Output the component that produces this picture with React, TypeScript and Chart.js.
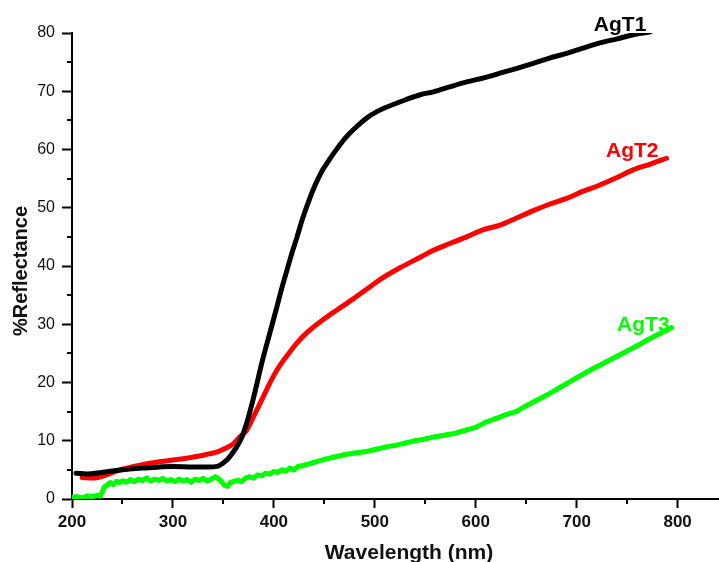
import { useEffect, useRef } from "react";
import { Chart, registerables } from "chart.js";

Chart.register(...registerables);

// Diffuse reflectance spectra of the three silver-doped samples
const seriesNames = ["AgT1", "AgT2", "AgT3"];

const wavelengthAgT1 = [
  204, 215, 228, 240, 255, 270, 287, 300, 320, 335, 344, 350, 356, 363, 368, 373,
  380, 389, 396, 403, 408, 413, 418, 423, 428, 433, 438, 443, 448, 454, 459, 465,
  472, 480, 492, 502, 512, 530, 545, 558, 575, 591, 608, 624, 640, 657, 673, 690,
  706, 723, 740, 756, 773,
];
const reflectanceAgT1 = [
  4.4, 4.3, 4.5, 4.8, 5.1, 5.3, 5.5, 5.6, 5.5, 5.5, 5.6, 6.2, 7.2, 8.9, 10.5, 13.0,
  17.5, 24.0, 28.5, 33.0, 36.3, 39.3, 42.3, 45.0, 47.9, 50.4, 52.7, 54.7, 56.4, 58.0, 59.3, 60.7,
  62.2, 63.6, 65.4, 66.5, 67.3, 68.5, 69.4, 69.9, 70.8, 71.6, 72.3, 73.1, 73.9, 74.8, 75.7, 76.5,
  77.4, 78.3, 79.0, 79.7, 80.2,
];

const wavelengthAgT2 = [
  210, 221, 230, 238, 246, 254, 265, 276, 287, 300, 310, 320, 332, 344, 352, 360,
  366, 373, 380, 388, 396, 404, 413, 423, 433, 448, 463, 479, 495, 510, 525, 545,
  558, 575, 591, 607, 624, 640, 657, 673, 690, 706, 723, 740, 756, 773, 789,
];
const reflectanceAgT2 = [
  3.7, 3.6, 3.9, 4.4, 4.9, 5.3, 5.7, 6.1, 6.4, 6.7, 6.9, 7.2, 7.6, 8.1, 8.7, 9.5,
  10.6, 11.8, 14.2, 17.0, 19.9, 22.4, 24.6, 26.8, 28.6, 30.7, 32.5, 34.4, 36.4, 38.2, 39.7, 41.5,
  42.7, 43.9, 45.0, 46.2, 47.0, 48.2, 49.5, 50.6, 51.6, 52.8, 53.9, 55.2, 56.5, 57.5, 58.5,
];

const wavelengthAgT3 = [
  200, 205, 210, 215, 220, 225, 228, 230, 232, 235, 238, 241, 244, 247, 250, 254,
  258, 262, 266, 270, 274, 278, 282, 286, 290, 294, 298, 302, 306, 310, 314, 318,
  322, 326, 330, 334, 338, 342, 345, 348, 351, 354, 357, 360, 364, 368, 372, 376,
  380, 384, 388, 392, 396, 400, 404, 408, 412, 416, 420, 424, 428, 432, 440, 450,
  460, 470, 480, 490, 500, 510, 520, 530, 540, 550, 560, 570, 580, 590, 600, 610,
  620, 630, 640, 650, 660, 670, 680, 690, 700, 710, 720, 730, 740, 750, 760, 770,
  780, 788, 794,
];
const reflectanceAgT3 = [
  0.3, 0.4, 0.2, 0.5, 0.4, 0.6, 0.5, 1.2, 2.0, 2.4, 2.8, 2.5, 3.0, 2.8, 3.1, 2.9,
  3.3, 3.0, 3.4, 3.2, 3.6, 3.1, 3.4, 3.2, 3.5, 3.1, 3.3, 3.0, 3.4, 3.1, 3.3, 2.9,
  3.4, 3.2, 3.5, 3.1, 3.4, 3.8, 3.5, 3.0, 2.4, 2.2, 2.8, 3.0, 3.2, 3.0, 3.6, 3.8,
  3.6, 4.1, 4.0, 4.4, 4.3, 4.7, 4.6, 5.0, 4.8, 5.3, 5.0, 5.6, 5.7, 5.9, 6.3, 6.8,
  7.2, 7.6, 7.9, 8.1, 8.5, 8.9, 9.2, 9.6, 10.0, 10.3, 10.7, 11.0, 11.3, 11.8, 12.3, 13.2,
  13.8, 14.5, 15.0, 16.0, 16.9, 17.8, 18.8, 19.8, 20.8, 21.8, 22.7, 23.6, 24.5, 25.4, 26.3, 27.3,
  28.2, 28.9, 29.4,
];

// Axis ticks
const xMajorTicks = [200, 300, 400, 500, 600, 700, 800];
const xMinorTicks = [250, 350, 450, 550, 650, 750];
const yMajorTicks = [0, 10, 20, 30, 40, 50, 60, 70, 80];
const yMinorTicks = [5, 15, 25, 35, 45, 55, 65, 75];

const xAxisTitle = "Wavelength (nm)";
const yAxisTitle = "%Reflectance";

const FONT = "Arial, 'Liberation Sans', Helvetica, sans-serif";
const INK = "#000000";

const toPoints = (xs: number[], ys: number[]) => xs.map((x, i) => ({ x, y: ys[i] }));

// Minor ticks, end-of-curve series names and the axis captions
const decorations = {
  id: "decorations",
  afterDraw(chart: any) {
    const { ctx, chartArea, scales } = chart;
    const xs = scales.x;
    const ys = scales.y;
    ctx.save();

    ctx.strokeStyle = INK;
    ctx.lineWidth = 2;
    for (const v of xMinorTicks) {
      const px = Math.round(xs.getPixelForValue(v));
      ctx.beginPath();
      ctx.moveTo(px, chartArea.bottom);
      ctx.lineTo(px, chartArea.bottom + 5);
      ctx.stroke();
    }
    for (const v of yMinorTicks) {
      const py = Math.round(ys.getPixelForValue(v));
      ctx.beginPath();
      ctx.moveTo(chartArea.left, py);
      ctx.lineTo(chartArea.left - 5, py);
      ctx.stroke();
    }

    // series names next to the long-wavelength end of each curve
    ctx.font = `bold 21px ${FONT}`;
    ctx.textAlign = "right";
    ctx.textBaseline = "alphabetic";
    chart.data.datasets.forEach((ds: any) => {
      const last = ds.data[ds.data.length - 1];
      const [dx, dy] = ds.labelOffset;
      ctx.fillStyle = ds.borderColor;
      ctx.fillText(ds.label, xs.getPixelForValue(last.x) + dx, ys.getPixelForValue(last.y) + dy);
    });

    ctx.fillStyle = "#111111";
    ctx.font = `bold 21px ${FONT}`;
    ctx.textAlign = "center";
    ctx.fillText(xAxisTitle, (chartArea.left + chartArea.right) / 2 + 14, chart.height - 3);

    ctx.font = `bold 20px ${FONT}`;
    ctx.translate(27, (chartArea.top + chartArea.bottom) / 2 + 5);
    ctx.rotate(-Math.PI / 2);
    ctx.fillText(yAxisTitle, 0, 0);

    ctx.restore();
  },
};

export default function App() {
  const canvasRef = useRef<HTMLCanvasElement | null>(null);

  useEffect(() => {
    const canvas = canvasRef.current;
    if (!canvas) return;

    const chart = new Chart(canvas, {
      type: "line",
      data: {
        datasets: [
          {
            label: seriesNames[0],
            data: toPoints(wavelengthAgT1, reflectanceAgT1),
            borderColor: "#000000",
            borderWidth: 5,
            pointRadius: 0,
            cubicInterpolationMode: "monotone",
            borderCapStyle: "round",
            borderJoinStyle: "round",
            labelOffset: [-4, -1],
          } as any,
          {
            label: seriesNames[1],
            data: toPoints(wavelengthAgT2, reflectanceAgT2),
            borderColor: "#ff0000",
            borderWidth: 5,
            pointRadius: 0,
            cubicInterpolationMode: "monotone",
            borderCapStyle: "round",
            borderJoinStyle: "round",
            labelOffset: [-8, -1],
          } as any,
          {
            label: seriesNames[2],
            data: toPoints(wavelengthAgT3, reflectanceAgT3),
            borderColor: "#00ff00",
            backgroundColor: "#00ff00",
            borderWidth: 5,
            pointRadius: 2.5,
            pointBorderWidth: 0,
            pointBackgroundColor: "#00ff00",
            tension: 0,
            borderCapStyle: "round",
            borderJoinStyle: "round",
            labelOffset: [-2, 3],
          } as any,
        ],
      },
      options: {
        animation: false,
        responsive: false,
        devicePixelRatio: 1,
        parsing: false as any,
        layout: { padding: { top: 33, right: 1, left: 0, bottom: 0 }, autoPadding: false },
        plugins: {
          legend: { display: false },
          tooltip: { enabled: false },
          title: { display: false },
        },
        scales: {
          x: {
            type: "linear",
            min: 200,
            max: 840,
            afterFit: (scale: any) => {
              scale.height = 63;
            },
            afterBuildTicks: (scale: any) => {
              scale.ticks = xMajorTicks.map((value) => ({ value }));
            },
            ticks: {
              includeBounds: false,
              padding: 4,
              color: "#111111",
              font: { family: FONT, size: 17, weight: "bold" },
              maxRotation: 0,
              callback: (v: any) => String(v),
            },
            grid: {
              drawOnChartArea: false,
              drawTicks: true,
              tickLength: 9,
              tickWidth: 2,
              tickColor: INK,
            },
            border: { display: true, width: 2, color: INK },
          },
          y: {
            type: "linear",
            min: 0,
            max: 80,
            afterFit: (scale: any) => {
              scale.width = 72;
            },
            afterBuildTicks: (scale: any) => {
              scale.ticks = yMajorTicks.map((value) => ({ value }));
            },
            ticks: {
              padding: 7,
              color: "#111111",
              font: { family: FONT, size: 16 },
              callback: (v: any) => String(v),
            },
            grid: {
              drawOnChartArea: false,
              drawTicks: true,
              tickLength: 10,
              tickWidth: 2,
              tickColor: INK,
            },
            border: { display: true, width: 2, color: INK },
          },
        },
      },
      plugins: [decorations],
    });

    return () => chart.destroy();
  }, []);

  return (
    <div style={{ position: "fixed", left: 0, top: 0, width: 719, height: 562, background: "#ffffff" }}>
      <canvas ref={canvasRef} width={719} height={562} style={{ display: "block" }} />
    </div>
  );
}
